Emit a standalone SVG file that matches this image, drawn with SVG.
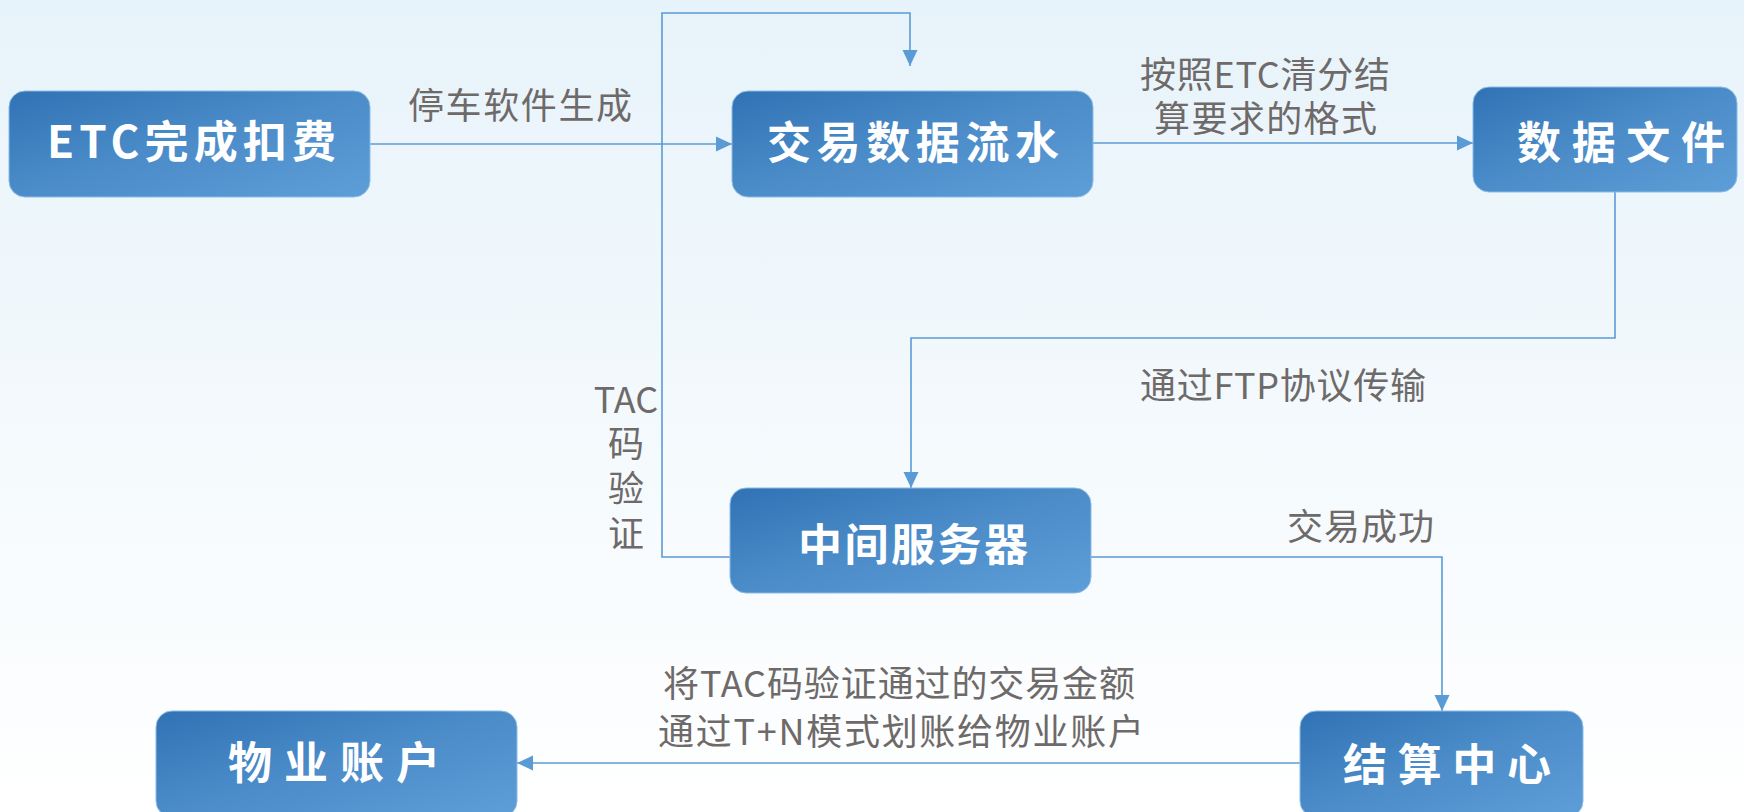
<svg xmlns="http://www.w3.org/2000/svg" width="1744" height="812" viewBox="0 0 1744 812">
  <defs>
    <linearGradient id="bg" x1="0" y1="0" x2="0" y2="1">
      <stop offset="0" stop-color="#e7f3fa"/>
      <stop offset="1" stop-color="#ffffff"/>
    </linearGradient>
    <linearGradient id="boxfill" x1="0" y1="0" x2="1" y2="1">
      <stop offset="0" stop-color="#3172b5"/>
      <stop offset="0.5" stop-color="#4b8cc9"/>
      <stop offset="1" stop-color="#5e9ed8"/>
    </linearGradient>
    <marker id="arrow" markerUnits="userSpaceOnUse" markerWidth="16" markerHeight="16" refX="16" refY="8" orient="auto">
      <path d="M0,0.5 L16,8 L0,15.5 Z" fill="#5b9bd5"/>
    </marker>
    <style>
      .box { fill: url(#boxfill); stroke: #8bbbe6; stroke-width: 1; }
      .title { font-family: "Noto Sans CJK SC", "Noto Sans", sans-serif; font-size: 44px; font-weight: 700; fill: #ffffff; }
      .label { font-family: "Noto Sans CJK SC", "Noto Sans", sans-serif; font-size: 36px; font-weight: 400; fill: #6e6a69; }
      .conn { fill: none; stroke: #5b9bd5; stroke-width: 1.6; }
    </style>
  </defs>

  <rect x="0" y="0" width="1744" height="812" fill="url(#bg)"/>

  <g id="connectors">
    <path class="conn" d="M370,144 L732,144" marker-end="url(#arrow)"/>
    <path class="conn" d="M1093,143 L1473,143" marker-end="url(#arrow)"/>
    <path class="conn" d="M1615,192 L1615,338 L911,338 L911,488" marker-end="url(#arrow)"/>
    <path class="conn" d="M730,557 L662,557 L662,13 L910,13 L910,66" marker-end="url(#arrow)"/>
    <path class="conn" d="M1091,557 L1442,557 L1442,711" marker-end="url(#arrow)"/>
    <path class="conn" d="M1300,763 L517,763" marker-end="url(#arrow)"/>
  </g>

  <g id="labels">
    <text class="label" x="408" y="119" textLength="224" lengthAdjust="spacing">停车软件生成</text>
    <text class="label" x="1140" y="88" textLength="250" lengthAdjust="spacing">按照ETC清分结</text>
    <text class="label" x="1154" y="132" textLength="223" lengthAdjust="spacing">算要求的格式</text>
    <text class="label" x="1140" y="399" textLength="286" lengthAdjust="spacing">通过FTP协议传输</text>
    <text class="label" x="1287" y="540" textLength="147" lengthAdjust="spacing">交易成功</text>
    <text class="label" x="663" y="697" textLength="472" lengthAdjust="spacing">将TAC码验证通过的交易金额</text>
    <text class="label" x="658" y="745" textLength="486" lengthAdjust="spacing">通过T+N模式划账给物业账户</text>
    <text class="label" x="626" y="413" text-anchor="middle">TAC</text>
    <text class="label" x="626" y="457" text-anchor="middle">码</text>
    <text class="label" x="626" y="502" text-anchor="middle">验</text>
    <text class="label" x="626" y="547" text-anchor="middle">证</text>
  </g>

  <g id="node-etc">
    <rect class="box" x="9" y="91" width="361" height="106" rx="16"/>
    <text class="title" x="47" y="158" textLength="289" lengthAdjust="spacing">ETC完成扣费</text>
  </g>
  <g id="node-flow">
    <rect class="box" x="732" y="91" width="361" height="106" rx="16"/>
    <text class="title" x="767" y="159" textLength="292" lengthAdjust="spacing">交易数据流水</text>
  </g>
  <g id="node-file">
    <rect class="box" x="1473" y="87" width="264" height="105" rx="16"/>
    <text class="title" x="1517" y="159" textLength="208" lengthAdjust="spacing">数据文件</text>
  </g>
  <g id="node-server">
    <rect class="box" x="730" y="488" width="361" height="105" rx="16"/>
    <text class="title" x="798" y="561" textLength="230" lengthAdjust="spacing">中间服务器</text>
  </g>
  <g id="node-settle">
    <rect class="box" x="1300" y="711" width="283" height="106" rx="16"/>
    <text class="title" x="1343" y="781" textLength="208" lengthAdjust="spacing">结算中心</text>
  </g>
  <g id="node-property">
    <rect class="box" x="156" y="711" width="361" height="106" rx="16"/>
    <text class="title" x="228" y="779" textLength="212" lengthAdjust="spacing">物业账户</text>
  </g>
</svg>
